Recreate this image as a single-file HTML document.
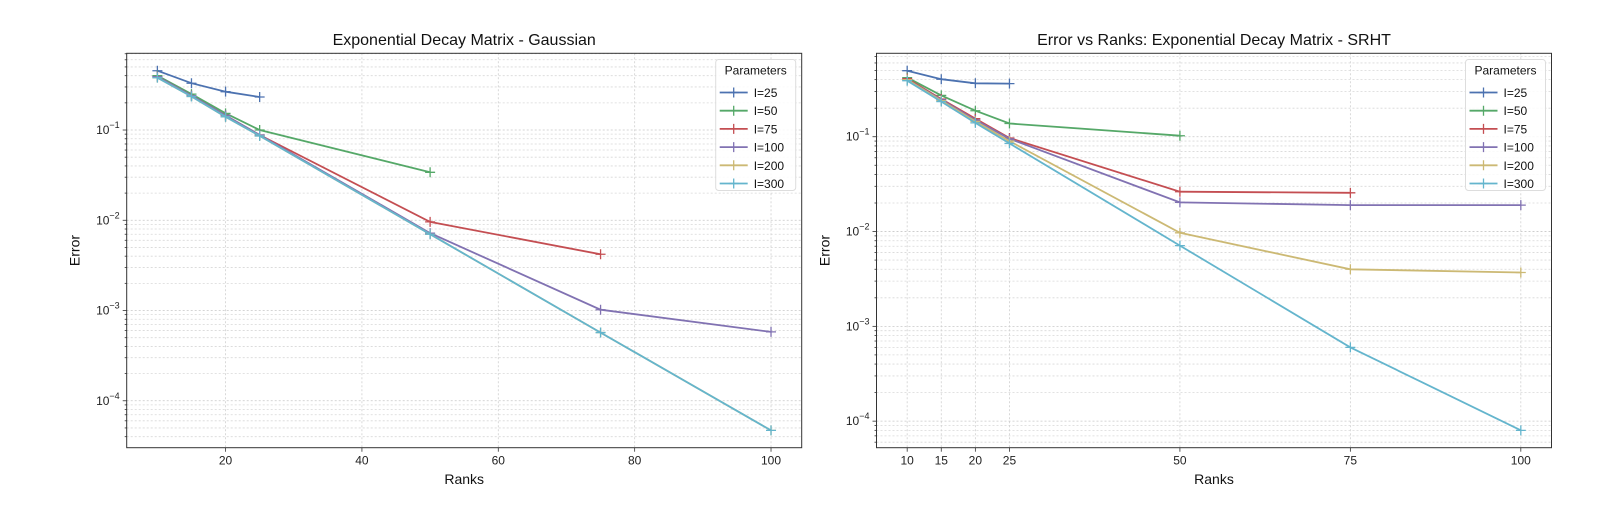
<!DOCTYPE html>
<html><head><meta charset="utf-8"><style>
body{margin:0;background:#fff}
svg{display:block;font-family:"Liberation Sans","DejaVu Sans",sans-serif}
</style></head><body>
<svg id="fig" width="1620" height="523" viewBox="0 0 1620 523" xmlns="http://www.w3.org/2000/svg"></svg>
<script>
const seriesNames = ["I=25","I=50","I=75","I=100","I=200","I=300"];
const colors = ["#4c72b0","#55a868","#c44e52","#8172b2","#ccb974","#64b5cd"];
const gRanks = [[10,15,20,25],[10,15,20,25,50],[10,15,20,25,50,75],[10,15,20,25,50,75,100],[10,15,20,25,50,75,100],[10,15,20,25,50,75,100]];
const gaussVals = [
 [0.454,0.33,0.266,0.232],
 [0.40,0.25,0.153,0.10,0.034],
 [0.39,0.24,0.145,0.088,0.0096,0.0042],
 [0.39,0.24,0.145,0.088,0.0072,0.00102,0.00058],
 [0.38,0.235,0.14,0.086,0.007,0.00057,0.000047],
 [0.38,0.235,0.14,0.086,0.007,0.00057,0.000047]
];
const srhtVals = [
 [0.497,0.404,0.366,0.363],
 [0.42,0.273,0.188,0.138,0.1025],
 [0.41,0.25,0.155,0.097,0.0263,0.0256],
 [0.40,0.245,0.15,0.095,0.0203,0.019,0.019],
 [0.40,0.24,0.145,0.09,0.0097,0.004,0.0037],
 [0.39,0.235,0.14,0.085,0.0071,0.0006,0.00008]
];
const leftXTicks = [20,40,60,80,100];
const rightXTicks = [10,15,20,25,50,75,100];

const NS="http://www.w3.org/2000/svg";
const svg=document.getElementById('fig');
function mk(tag,attrs,parent){const e=document.createElementNS(NS,tag);for(const k in attrs)e.setAttribute(k,attrs[k]);(parent||svg).appendChild(e);return e;}

function drawPanel(opt){
  const g=mk('g',{});
  
  
  const L=opt.left,R=opt.left+675,T=53.3,B=447.7;
  const x=v=>L+(v-5.5)/(99)*(R-L);
  const y=v=>T+(opt.ymax-Math.log10(v))/(opt.ymax-opt.ymin)*(B-T);
  // minor + major y grid
  for(let d=-5;d<=0;d++){
    for(let m=1;m<=9;m++){
      const v=m*Math.pow(10,d);const lv=Math.log10(v);
      if(lv<opt.ymin||lv>opt.ymax)continue;
      const yy=y(v);
      const ln=mk('line',{x1:L,x2:R,y1:yy,y2:yy,stroke:m==1?'#c8c8c8':'#d8d8d8','stroke-width':0.8,'stroke-dasharray':'2,2'},g);
      
      
      const tk=mk('line',{x1:L-(m==1?4:2),x2:L,y1:yy,y2:yy,stroke:'#333','stroke-width':0.8},g);
      
      
      if(m==1){
        const t=mk('text',{x:L-7,y:yy+4,'text-anchor':'end','font-size':12,fill:'#222'},g);
        
        
        t.innerHTML='10<tspan dy="-6" font-size="9">\u2212'+(-d)+'</tspan>';
      }
    }
  }
  opt.xticks.forEach(v=>{
    const xx=x(v);
    const ln=mk('line',{x1:xx,x2:xx,y1:T,y2:B,stroke:'#d0d0d0','stroke-width':0.8,'stroke-dasharray':'2,2'},g);
    
    
    const tk=mk('line',{x1:xx,x2:xx,y1:B,y2:B+4,stroke:'#333','stroke-width':0.8},g);
    
    
    const t=mk('text',{x:xx,y:B+17,'text-anchor':'middle','font-size':12,fill:'#222'},g);
    
    
    t.textContent=v;
  });
  // series
  opt.vals.forEach((vals,i)=>{
    const ranks=gRanks[i];
    const pts=vals.map((v,j)=>x(ranks[j]).toFixed(1)+','+y(v).toFixed(1)).join(' ');
    const pl=mk('polyline',{points:pts,fill:'none',stroke:colors[i],'stroke-width':1.8},g);
    
    
    vals.forEach((v,j)=>{
      const cx=x(ranks[j]),cy=y(v);
      const p=mk('path',{d:`M${cx-5},${cy}H${cx+5}M${cx},${cy-5}V${cy+5}`,stroke:colors[i],'stroke-width':1.3},g);
      
      
    });
  });
  const fr=mk('rect',{x:L,y:T,width:R-L,height:B-T,fill:'none',stroke:'#333','stroke-width':1},g);
  
  
  const tt=mk('text',{x:(L+R)/2,y:45,'text-anchor':'middle','font-size':16,fill:'#111'},g);
  
  
  tt.textContent=opt.title;
  const xl=mk('text',{x:(L+R)/2,y:484,'text-anchor':'middle','font-size':14,fill:'#111'},g);
  
  
  xl.textContent='Ranks';
  const yl=mk('text',{x:0,y:0,'text-anchor':'middle','font-size':14,fill:'#111',transform:`translate(${L-47},${(T+B)/2}) rotate(-90)`},g);
  
  
  yl.textContent='Error';
  // legend
  const lx=R-86,ly=59.5;
  const lg=mk('g',{},g);
  
  
  mk('rect',{x:lx,y:ly,width:80,height:131,rx:3,fill:'#fff','fill-opacity':0.85,stroke:'#ddd'},lg);
  const lt=mk('text',{x:lx+40,y:ly+15,'text-anchor':'middle','font-size':12,fill:'#111'},lg);
  
  
  lt.textContent='Parameters';
  seriesNames.forEach((n,i)=>{
    const yy=ly+33+i*18.2;
    const e=mk('g',{},lg);
    
    
    mk('line',{x1:lx+4,x2:lx+32,y1:yy,y2:yy,stroke:colors[i],'stroke-width':1.8},e);
    mk('path',{d:`M${lx+13},${yy}H${lx+23}M${lx+18},${yy-5}V${yy+5}`,stroke:colors[i],'stroke-width':1.3},e);
    const t=mk('text',{x:lx+38,y:yy+4.5,'font-size':12,fill:'#111'},e);
    t.textContent=n;
  });
}
drawPanel({name:'gaussian-chart',left:126.7,ymax:-0.15,ymin:-4.52,xticks:leftXTicks,vals:gaussVals,title:'Exponential Decay Matrix - Gaussian'});
drawPanel({name:'srht-chart',left:876.5,ymax:-0.12,ymin:-4.28,xticks:rightXTicks,vals:srhtVals,title:'Error vs Ranks: Exponential Decay Matrix - SRHT'});
</script>
</body></html>
